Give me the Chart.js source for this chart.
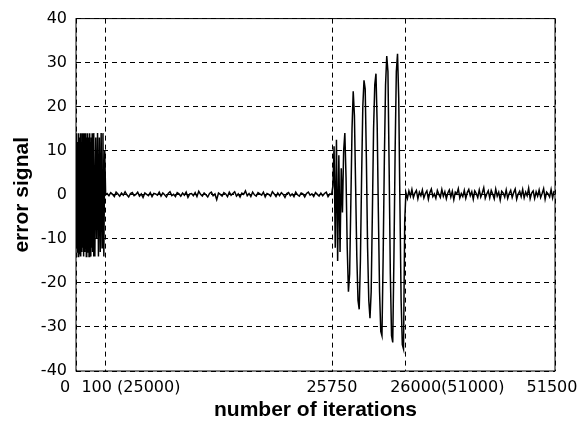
<!DOCTYPE html>
<html>
<head>
<meta charset="utf-8">
<script src="https://cdn.jsdelivr.net/npm/chart.js@4"></script>
<style>
  body { margin: 0; background: #fff; }
  #wrap { width: 580px; height: 434px; }
</style>
</head>
<body>
<div id="wrap"><canvas id="errChart"></canvas></div>
<script>
// x is the position on the compressed iteration axis (three windows glued together)
const xTickPos = [0, 100, 858, 1100, 1600]
const xTickLabels = ['0', '100 (25000)', '25750', '26000(51000)', '51500']

// first window: adaptation from start
const burstStart = 0, burstStep = 1.5
const burstValues = [13, -12, 14, -13, 12, -14, 14, -12, 13, -13, 14, -14, 12, -13, 14,
  -12, 13, -14, 14, -13, 12, -12, 14, -14, 13, -13, 14, -12, 13, -14,
  14, -13, 12, -14, 13, -12, 14, -13, 12, -14]
const burstTailStart = 60, burstTailStep = 3
const burstTailValues = [14, -14, 13, -10, 14, -14, 13, -13, 14, -12, 14, -14, 10, 0]

// converged, small residual
const quietStart = 104, quietStep = 6
const quietValues = [
  0.3, -0.2, 0.5, 0.1, -0.4, 0.6, 0.2, -0.3, 0.4, -0.1, 0.7, 0.0, -0.5, 0.3,
  0.5, -0.2, 0.1, 0.6, -0.3, 0.2, -0.6, 0.4, 0.1, -0.2, 0.5, -0.4, 0.3, 0.2,
  -0.1, 0.6, -0.3, 0.4, 0.0, -0.5, 0.3, 0.7, -0.2, 0.1, -0.4, 0.5, 0.2, -0.3,
  0.4, -0.1, 0.6, -0.6, 0.2, 0.3, -0.2, 0.5, -0.4, 0.8, 0.1, -0.3, 0.4, 0.0,
  -0.5, 0.3, 0.6, -0.2, 0.2, -1.1, 0.4, 0.1, -0.3, 0.5, 0.2, -0.4, 0.6, -0.1,
  0.3, 0.7, -0.3, 0.2, -0.5, 0.4, 0.1, 0.9, -0.2, 0.3, -0.4, 0.6, 0.0, -0.3,
  0.5, 0.2, -0.1, 0.6, -0.5, 0.3, 0.1, -0.3, 0.7, 0.2, -0.4, 0.4, -0.2, 0.5,
  0.1, -0.6, 0.3, 0.5, -0.2, 0.2, -0.4, 0.6, 0.0, -0.3, 0.4, 0.2, -0.5, 0.3,
  0.6, -0.1, 0.2, -0.4, 0.5, 0.1, -0.3, 0.4, -0.2, 0.3, 0.6, -0.4, 0.2, 0.1
]

// system change at 25750 -> growing oscillation
const transientStart = 858, transientStep = 4
const transientValues = [
  2, 11, -12, 12.5, -15, 9, -13, 6, -4, 10,
  14, 4, -12, -22, -18, -2, 15, 23.5, 18, 2,
  -14, -24, -26, -15, 4, 20, 26, 24, 8, -12,
  -24, -28, -22, -4, 15, 25, 27.5, 16, -4, -22,
  -31, -32, -14, 8, 25, 31.5, 28, 6, -18, -32,
  -33.5, -14, 10, 28, 32, 22, -2, -24, -34, -35,
  -6
]

// last window after re-convergence
const settledStart = 1102, settledStep = 5
const settledValues = [
  0.5, -0.8, 0.9, -0.3, 1.2, -0.6, 0.4, 1.0, -0.9, 0.6, -0.2, 1.1, -0.7, 0.3,
  0.9, -1.0, 0.5, 1.3, -0.4, 0.2, -0.8, 1.0, 0.1, -0.6, 1.2, -0.3, 0.7, -0.9,
  0.4, 1.1, -0.5, 0.8, -1.1, 0.6, 0.2, 1.4, -0.7, 0.3, -0.4, 1.0, -0.8, 0.5,
  1.2, -0.2, 0.7, -1.0, 0.9, 0.3, -0.6, 1.1, -0.5, 0.4, 1.6, -0.8, 0.2, 0.9,
  -0.7, 1.0, 0.1, -0.9, 1.3, -0.3, 0.6, -1.2, 0.8, 0.4, -0.5, 1.1, -0.8, 0.3,
  1.0, -0.6, 0.5, 1.3, -1.0, 0.2, 0.8, -0.4, 1.2, -0.7, 0.6, -0.2, 1.5, -0.9,
  0.4, 0.9, -0.8, 0.7, -0.3, 1.1, -0.6, 0.3, 1.4, -1.0, 0.6, 0.2, -0.5, 1.2,
  -0.7, 0.9
]

const toPoints = (start, step, values) => values.map((v, i) => ({ x: start + i * step, y: v }))

const points = [
  ...toPoints(burstStart, burstStep, burstValues),
  ...toPoints(burstTailStart, burstTailStep, burstTailValues),
  ...toPoints(quietStart, quietStep, quietValues),
  ...toPoints(transientStart, transientStep, transientValues),
  ...toPoints(settledStart, settledStep, settledValues)
]

// labels sit a bit off their ticks in the original
const xLabelShift = [-11, 25, -1, 42, -3]

const frameAndLabels = {
  id: 'frameAndLabels',
  afterDraw(chart) {
    const { ctx, chartArea, scales } = chart
    ctx.save()
    ctx.strokeStyle = '#000'
    ctx.lineWidth = 1
    ctx.setLineDash([])
    ctx.strokeRect(chartArea.left, chartArea.top, chartArea.right - chartArea.left, chartArea.bottom - chartArea.top)

    ctx.fillStyle = '#000'
    ctx.font = '16px "DejaVu Sans"'
    ctx.textAlign = 'center'
    ctx.textBaseline = 'middle'
    xTickPos.forEach((v, i) => {
      const px = scales.x.getPixelForValue(v)
      ctx.fillText(xTickLabels[i], px + xLabelShift[i], chartArea.bottom + 17)
    })
    ctx.restore()
  }
}

Chart.defaults.font.family = '"DejaVu Sans", sans-serif'
Chart.defaults.color = '#000'

new Chart(document.getElementById('errChart'), {
  type: 'line',
  data: {
    datasets: [{
      data: points,
      borderColor: '#000',
      borderWidth: 1.5,
      pointRadius: 0,
      tension: 0,
      fill: false
    }]
  },
  options: {
    responsive: true,
    maintainAspectRatio: false,
    animation: false,
    layout: { padding: { top: 18, right: 25, left: 0, bottom: 0 } },
    plugins: {
      legend: { display: false },
      tooltip: { enabled: false }
    },
    scales: {
      x: {
        type: 'linear',
        min: 0,
        max: 1600,
        afterBuildTicks: (scale) => { scale.ticks = xTickPos.map(v => ({ value: v })) },
        afterFit: (scale) => { scale.height = 63 },
        ticks: { display: false },
        grid: { color: '#000', lineWidth: 1, drawTicks: false },
        border: { display: false, dash: [5, 4] },
        title: {
          display: true,
          text: 'number of iterations',
          font: { family: '"Liberation Sans"', size: 21, weight: 'bold' },
          padding: { top: 0, bottom: 11 }
        }
      },
      y: {
        min: -40,
        max: 40,
        afterFit: (scale) => { scale.width = 76 },
        ticks: {
          stepSize: 10,
          padding: 9,
          font: { size: 16 }
        },
        grid: { color: '#000', lineWidth: 1, drawTicks: false },
        border: { display: false, dash: [5, 4] },
        title: {
          display: true,
          text: 'error signal',
          font: { family: '"Liberation Sans"', size: 21, weight: 'bold' },
          padding: { top: 10, bottom: 0 }
        }
      }
    }
  },
  plugins: [frameAndLabels]
})
</script>
</body>
</html>
